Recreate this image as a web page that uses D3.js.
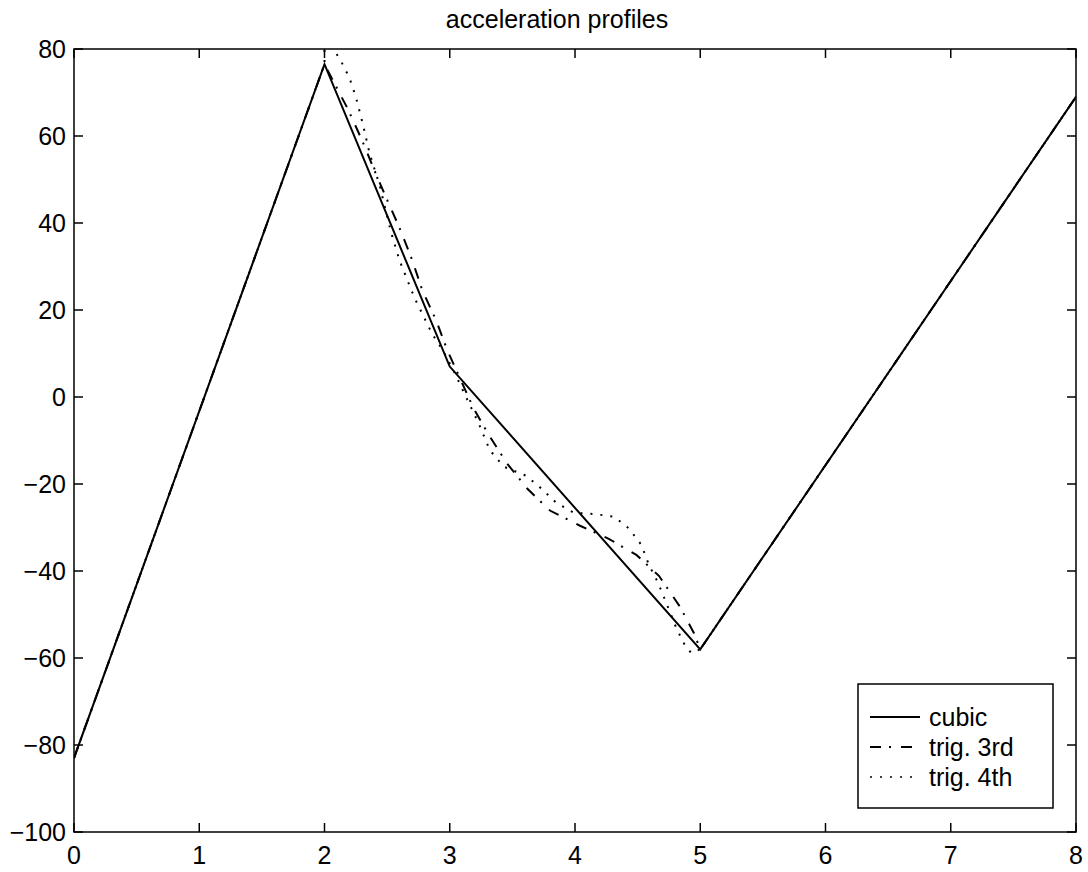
<!DOCTYPE html>
<meta charset="utf-8">
<style>
body { margin: 0; background: #fff; }
text { font-family: "Liberation Sans", Arial, Helvetica, sans-serif; fill: #000; }
</style>
<svg width="1088" height="872"></svg>
<script src="https://d3js.org/d3.v7.min.js"></script>
<script>

// acceleration curves
var cubicX = [0, 2, 3, 5, 8];
var cubicY = [-83, 76.5, 7, -58, 69];

var trig3X = [0, 2, 2.19, 2.3, 2.4, 2.5, 2.6, 2.7, 2.78, 2.89, 2.98, 3.19, 3.32, 3.46, 3.62, 3.8, 4.04, 4.27, 4.49, 4.67, 4.84, 4.95, 5, 8];
var trig3Y = [-83, 76.5, 66, 59, 52, 45.3, 38.8, 31.5, 24.6, 17.7, 10.8, -2.6, -9.1, -15.4, -21.1, -26.1, -29.6, -32.6, -36.3, -41.1, -48.3, -54.3, -58, 69];

// the 4th order profile jumps at t = 2
var trig4X = [0, 2, 2, 2.05, 2.12, 2.2, 2.25, 2.31, 2.36, 2.44, 2.53, 2.6, 2.72, 2.86, 2.95, 3.04, 3.13, 3.23, 3.32, 3.43, 3.61, 3.73, 3.85, 3.99, 4.15, 4.31, 4.43, 4.53, 4.59, 4.66, 4.72, 4.81, 4.88, 4.93, 5, 8];
var trig4Y = [-83, 76.5, 82, 80.6, 77.9, 73.3, 69, 62.3, 56, 48.7, 38, 31.3, 22.7, 14.5, 10.5, 5.5, 0, -6, -12.2, -16, -18.1, -21, -24.3, -26.6, -26.9, -27.5, -30.2, -34, -38.6, -42.5, -46.7, -53.2, -57.2, -58.9, -58, 69];

var xTicks = [0, 1, 2, 3, 4, 5, 6, 7, 8];
var yTicks = [-100, -80, -60, -40, -20, 0, 20, 40, 60, 80];
var seriesNames = ["cubic", "trig. 3rd", "trig. 4th"];

var svg = d3.select("svg"),
    plotL = 74, plotT = 49, plotR = 1076, plotB = 832;

var x = d3.scaleLinear().domain([0, 8]).range([plotL, plotR]);
var y = d3.scaleLinear().domain([-100, 80]).range([plotB, plotT]);

// line styles, same order as seriesNames
var styles = [
  { width: 2, dash: null },
  { width: 2, dash: "11,8,2,10" },
  { width: 2, dash: "2,8" }
];

var series = [
  d3.zip(cubicX, cubicY),
  d3.zip(trig3X, trig3Y),
  d3.zip(trig4X, trig4Y)
];

svg.append("defs").append("clipPath")
    .attr("id", "plotclip")
  .append("rect")
    .attr("x", plotL)
    .attr("y", plotT)
    .attr("width", plotR - plotL)
    .attr("height", plotB - plotT);

var line = d3.line()
    .x(function(d) { return x(d[0]); })
    .y(function(d) { return y(d[1]); });

// draw dotted first so the solid one sits on top
svg.append("g")
    .attr("clip-path", "url(#plotclip)")
  .selectAll("path")
  .data([2, 1, 0])
  .enter().append("path")
    .attr("fill", "none")
    .attr("stroke", "#000")
    .attr("stroke-width", function(i) { return styles[i].width; })
    .attr("stroke-dasharray", function(i) { return styles[i].dash; })
    .attr("d", function(i) { return line(series[i]); });

// axes box with inward ticks on every side
var tickLen = 9;
var ax = svg.append("g")
    .attr("stroke", "#000")
    .attr("stroke-width", 1.5);

ax.append("rect")
    .attr("x", plotL)
    .attr("y", plotT)
    .attr("width", plotR - plotL)
    .attr("height", plotB - plotT)
    .attr("fill", "none");

xTicks.forEach(function(t) {
  ax.append("line").attr("x1", x(t)).attr("x2", x(t)).attr("y1", plotB).attr("y2", plotB - tickLen);
  ax.append("line").attr("x1", x(t)).attr("x2", x(t)).attr("y1", plotT).attr("y2", plotT + tickLen);
});
yTicks.forEach(function(t) {
  ax.append("line").attr("y1", y(t)).attr("y2", y(t)).attr("x1", plotL).attr("x2", plotL + tickLen);
  ax.append("line").attr("y1", y(t)).attr("y2", y(t)).attr("x1", plotR).attr("x2", plotR - tickLen);
});

var fmt = d3.format("d");

svg.append("g").selectAll("text")
  .data(xTicks)
  .enter().append("text")
    .attr("x", function(d) { return x(d); })
    .attr("y", 864)
    .attr("text-anchor", "middle")
    .attr("font-size", 25)
    .text(fmt);

svg.append("g").selectAll("text")
  .data(yTicks)
  .enter().append("text")
    .attr("x", 66)
    .attr("y", function(d) { return y(d) + 9; })
    .attr("text-anchor", "end")
    .attr("font-size", 25)
    .text(fmt);

svg.append("text")
    .attr("x", 557)
    .attr("y", 28)
    .attr("text-anchor", "middle")
    .attr("font-size", 25)
    .text("acceleration profiles");

// legend
var lg = svg.append("g");
lg.append("rect")
    .attr("x", 858)
    .attr("y", 684)
    .attr("width", 195)
    .attr("height", 124)
    .attr("fill", "#fff")
    .attr("stroke", "#000")
    .attr("stroke-width", 1.5);

seriesNames.forEach(function(name, i) {
  var ly = 717 + i * 30;
  lg.append("line")
      .attr("x1", 870)
      .attr("x2", 920)
      .attr("y1", ly)
      .attr("y2", ly)
      .attr("stroke", "#000")
      .attr("stroke-width", i == 2 ? 1.5 : styles[i].width)
      .attr("stroke-dasharray", styles[i].dash);
  lg.append("text")
      .attr("x", 929)
      .attr("y", ly + 9)
      .attr("font-size", 25)
      .text(name);
});

</script>
